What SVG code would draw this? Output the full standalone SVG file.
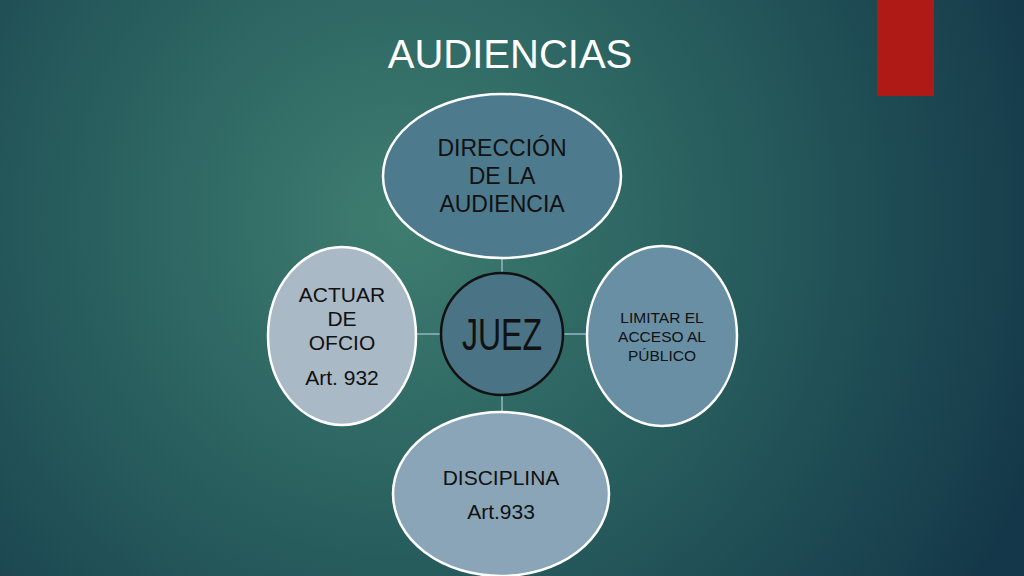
<svg xmlns="http://www.w3.org/2000/svg" width="1024" height="576" viewBox="0 0 1024 576">
<defs>
<radialGradient id="bg" cx="400" cy="220" r="680" gradientUnits="userSpaceOnUse">
<stop offset="0" stop-color="#3f7d70"/>
<stop offset="0.45" stop-color="#29605f"/>
<stop offset="1" stop-color="#143849"/>
</radialGradient>
<style>
.n{stroke:#ffffff;stroke-width:2.5}
.t{font-family:"Liberation Sans",Arial,sans-serif;fill:#111;text-anchor:middle}
.c{stroke:#7aa3ad;stroke-width:2;fill:none}
</style>
</defs>
<rect width="1024" height="576" fill="url(#bg)"/>
<rect x="877" y="0" width="57" height="96" fill="#b01a16"/>
<text x="510" y="68" font-family="Liberation Sans,Arial,sans-serif" font-size="40" fill="#ffffff" text-anchor="middle">AUDIENCIAS</text>
<g id="connectors">
<line class="c" x1="502" y1="257" x2="502" y2="273"/>
<line class="c" x1="416" y1="334" x2="441" y2="334"/>
<line class="c" x1="563" y1="334" x2="587" y2="334"/>
<line class="c" x1="502" y1="395" x2="502" y2="412"/>
</g>
<g id="direccion">
<ellipse class="n" cx="502" cy="176" rx="119" ry="82" fill="#4e7a8d"/>
<text class="t" font-size="23"><tspan x="502" y="156">DIRECCIÓN</tspan><tspan x="502" y="184">DE LA</tspan><tspan x="502" y="212">AUDIENCIA</tspan></text>
</g>
<g id="juez">
<circle cx="502" cy="334" r="61" fill="#4a7385" stroke="#111" stroke-width="2.5"/>
<text class="t" x="502" y="350" font-size="44" textLength="80" lengthAdjust="spacingAndGlyphs">JUEZ</text>
</g>
<g id="actuar">
<ellipse class="n" cx="342" cy="336" rx="74" ry="89" fill="#a9b9c5"/>
<text class="t" font-size="21"><tspan x="342" y="302">ACTUAR</tspan><tspan x="342" y="326">DE</tspan><tspan x="342" y="350">OFCIO</tspan><tspan x="342" y="385">Art. 932</tspan></text>
</g>
<g id="limitar">
<ellipse class="n" cx="662" cy="336" rx="75" ry="90" fill="#698fa4"/>
<text class="t" font-size="15.5"><tspan x="662" y="323">LIMITAR EL</tspan><tspan x="662" y="342">ACCESO AL</tspan><tspan x="662" y="361">PÚBLICO</tspan></text>
</g>
<g id="disciplina">
<ellipse class="n" cx="501" cy="494" rx="108" ry="82" fill="#89a5b7"/>
<text class="t" font-size="21"><tspan x="501" y="485">DISCIPLINA</tspan><tspan x="501" y="519">Art.933</tspan></text>
</g>
</svg>
